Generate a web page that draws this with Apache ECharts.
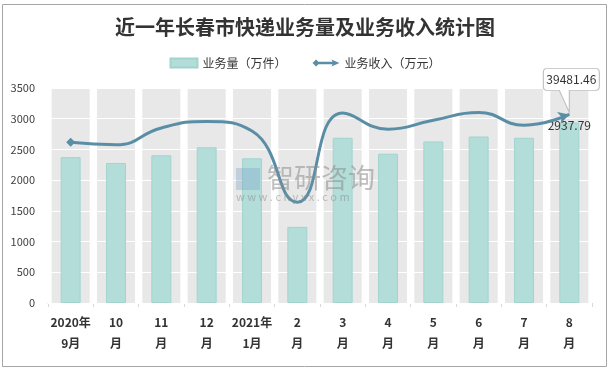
<!DOCTYPE html>
<html>
<head>
<meta charset="utf-8">
<script src="https://cdn.jsdelivr.net/npm/echarts@6/dist/echarts.min.js"></script>
<style>html,body{margin:0;padding:0;background:#fff}#c{width:610px;height:371px}</style>
</head>
<body>
<div id="c"></div>
<script>
const categories = ['2020年\n9月','10\n月','11\n月','12\n月','2021年\n1月','2\n月','3\n月','4\n月','5\n月','6\n月','7\n月','8\n月'];
const volume = [2375, 2280, 2405, 2535, 2355, 1240, 2690, 2430, 2630, 2710, 2690, 2937.79];
const income = [2615, 2575, 2850, 2955, 2800, 1640, 3095, 2830, 2975, 3100, 2895, 3070];
const background = [3500, 3500, 3500, 3500, 3500, 3500, 3500, 3500, 3500, 3500, 3500, 3500];
const yTicks = [0, 500, 1000, 1500, 2000, 2500, 3000, 3500];
const incomeLatestLabel = '39481.46';
const volumeName = '业务量（万件）';
const incomeName = '业务收入（万元）';

const FONT = "'Noto Sans CJK SC', 'Noto Sans', sans-serif";
const last = volume.length - 1;

const chart = echarts.init(document.getElementById('c'), null, {renderer: 'canvas'});
chart.setOption({
  animation: false,
  backgroundColor: '#fff',
  textStyle: {fontFamily: FONT},
  title: {
    text: '近一年长春市快递业务量及业务收入统计图',
    left: 'center', top: 12,
    textStyle: {fontSize: 20, fontWeight: 'bold', color: '#333', fontFamily: FONT}
  },
  legend: {
    top: 52, left: 'center',
    itemWidth: 27, itemHeight: 9, itemGap: 26,
    textStyle: {fontSize: 12, color: '#333', fontFamily: FONT},
    data: [
      {name: volumeName, icon: 'rect'},
      {name: incomeName, icon: 'path://M0,4.5 L4,0.5 L8,4.5 L4,8.5 Z M6,3 L24,3 L24,6 L6,6 Z M21,0.5 L30,4.5 L21,8.5 L23,4.5 Z'}
    ]
  },
  grid: {left: 48, right: 18, top: 88, bottom: 68},
  xAxis: [
    {
      type: 'category', data: categories,
      axisLine: {lineStyle: {color: '#d9d9d9'}},
      axisTick: {show: true, length: 4, lineStyle: {color: '#d9d9d9'}},
      axisLabel: {interval: 0, fontSize: 12, fontWeight: 'bold', color: '#333', lineHeight: 21, margin: 9, fontFamily: FONT}
    },
    {type: 'category', data: categories, show: false}
  ],
  yAxis: {
    type: 'value', min: yTicks[0], max: yTicks[yTicks.length - 1], interval: 500, z: 1,
    axisLine: {show: false}, axisTick: {show: false},
    axisLabel: {fontSize: 11, color: '#404040', margin: 13, fontFamily: FONT, formatter: (v) => String(v)},
    splitLine: {lineStyle: {color: '#ffffff', width: 1}}
  },
  graphic: [
    {type: 'rect', shape: {x: 2.5, y: 4.5, width: 604, height: 362}, style: {fill: 'none', stroke: '#a6a6a6', lineWidth: 1}, z: 100},
    {type: 'text', left: 267, top: 164, z: 50, silent: true, style: {text: '智研咨询', fontSize: 27, fill: 'rgba(140,140,140,0.55)', fontFamily: FONT}},
    {type: 'text', left: 236, top: 191, z: 50, silent: true, style: {text: 'w w w . c h y x x . c o m', fontSize: 11, fill: 'rgba(140,140,140,0.55)', fontFamily: FONT}},
    {type: 'rect', left: 236, top: 168, z: 50, silent: true, shape: {width: 24, height: 22}, style: {fill: 'rgba(120,160,200,0.35)'}}
  ],
  series: [
    {
      type: 'bar', xAxisIndex: 1, data: background, barWidth: '84%', z: 0, silent: true,
      itemStyle: {color: '#e8e8e8'}, tooltip: {show: false}, legendHoverLink: false
    },
    {
      name: volumeName, type: 'bar', xAxisIndex: 0, barWidth: '44%', z: 2,
      itemStyle: {color: '#b2ddd9', borderColor: '#a2d4ce', borderWidth: 1},
      data: volume.map((v, i) => i === last ? {value: v, label: {show: true, position: 'top', offset: [0, 14], fontSize: 12, color: '#333', fontFamily: FONT}} : v)
    },
    {
      name: incomeName, type: 'line', xAxisIndex: 0, smooth: 0.5, z: 4,
      symbol: 'none',
      lineStyle: {color: '#5a8ea6', width: 3},
      itemStyle: {color: '#5a8ea6'},
      data: income.map((v, i) => {
        if (i === 0) return {value: v, symbol: 'diamond', symbolSize: [9, 9]};
        if (i === last) return {value: v, symbol: 'arrow', symbolSize: [9, 11], symbolRotate: -72};
        return v;
      }),
      markPoint: {
        symbol: 'path://M4,0 L52,0 Q56,0 56,4 L56,18 Q56,22 52,22 L26,22 L26,44 L16,22 L4,22 Q0,22 0,18 L0,4 Q0,0 4,0 Z',
        symbolSize: [56, 44],
        symbolOffset: [2, -24],
        itemStyle: {color: '#ffffff', borderColor: '#bfbfbf', borderWidth: 1},
        label: {show: true, position: 'inside', offset: [0, -11], fontSize: 12, color: '#333', fontFamily: FONT, formatter: () => incomeLatestLabel},
        data: [{coord: [last, income[last]]}]
      }
    }
  ]
});
</script>
</body>
</html>
